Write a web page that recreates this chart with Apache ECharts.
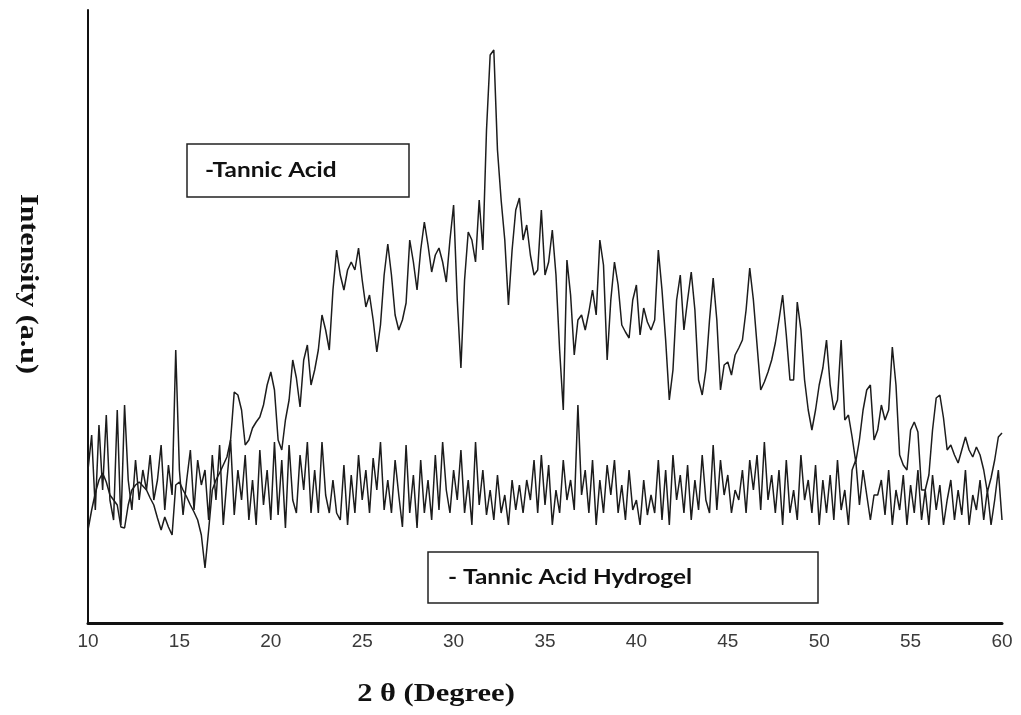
<!DOCTYPE html>
<html>
<head>
<meta charset="utf-8">
<script src="https://cdn.jsdelivr.net/npm/echarts@6/dist/echarts.min.js"></script>
<style>html,body{margin:0;padding:0;background:#fff;}#chart{width:1021px;height:715px;}</style>
</head>
<body>
<div id="chart"></div>
<script>
// 2θ sampling grid (degrees)
const startDeg = 10;
const stepDeg = 0.2;
const xTicks = [10, 15, 20, 25, 30, 35, 40, 45, 50, 55, 60];

// Tannic Acid intensity (a.u.)
const tannicAcid = [
 90,110,127,140,147,138,125,120,115,93,
 92,115,130,135,138,134,130,122,115,102,
 90,103,93,85,135,138,130,123,115,108,
 100,85,52,90,130,140,147,155,163,180,
 228,225,210,175,180,192,198,203,215,235,
 248,230,180,170,200,220,260,242,213,260,
 275,235,250,270,305,290,270,330,370,345,
 330,350,358,350,372,340,313,325,300,268,
 295,345,376,345,305,290,300,317,380,358,
 330,370,398,375,348,365,372,358,338,380,
 415,320,252,340,388,380,358,420,370,490,
 565,570,470,420,380,315,370,410,422,380,
 395,365,345,350,410,345,358,390,345,270,
 210,360,325,265,300,305,290,308,330,305,
 380,355,260,320,358,335,295,288,282,320,
 335,285,312,298,290,300,370,330,280,220,
 250,320,345,290,320,348,310,240,225,250,
 300,342,300,230,255,258,245,265,272,280,
 310,352,320,275,230,238,248,260,277,300,
 325,285,240,240,318,290,240,210,190,210,
 235,252,280,235,210,220,280,200,205,183,
 158,180,210,230,235,180,190,215,200,210,
 273,235,165,155,150,190,198,188,130,130,
 145,190,222,225,202,170,175,165,157,170,
 183,170,163,173,165,150,128,142,160,183,
 187
];

// Tannic Acid Hydrogel intensity (a.u.)
const hydrogel = [
 150,185,110,195,130,205,120,100,210,95,
 215,140,110,160,120,150,130,165,120,140,
 175,110,155,125,270,150,105,140,170,110,
 160,135,150,100,165,120,175,95,140,180,
 105,150,120,165,100,140,95,170,115,150,
 100,178,105,160,92,175,120,107,165,130,
 178,107,150,107,178,125,107,140,107,100,
 155,95,145,107,165,120,150,107,162,130,
 178,110,140,107,160,125,93,175,107,145,
 92,160,107,140,100,165,110,178,130,107,
 150,120,170,107,140,95,178,115,150,105,
 130,100,145,107,125,95,140,110,135,107,
 140,120,160,107,165,115,155,95,130,107,
 160,120,140,110,215,125,150,107,160,95,
 140,107,155,125,160,107,135,100,150,110,
 120,95,140,105,125,107,160,100,150,95,
 165,120,145,107,155,100,140,110,165,120,
 107,175,110,160,125,145,107,130,120,150,
 107,160,130,165,110,178,120,145,107,150,
 95,160,107,130,100,165,120,140,107,155,
 95,140,107,145,100,160,110,130,95,150,
 160,115,150,125,100,125,125,140,105,150,
 95,130,110,145,95,135,107,150,100,130,
 95,145,110,135,95,120,140,100,130,105,
 150,95,125,110,140,100,130,95,120,150,
 100
];

function toPairs(arr) {
  return arr.map((v, i) => [+(startDeg + i * stepDeg).toFixed(2), v]);
}

const chart = echarts.init(document.getElementById('chart'), null, {renderer: 'canvas'});
const lineStyle = {color: '#1c1c1c', width: 1.5};
const labelFont = 'bold 21px Lato, "Open Sans", sans-serif';
const titleFont = 'bold 25px "Liberation Serif", "DejaVu Serif", serif';
const option = {
  animation: false,
  backgroundColor: '#ffffff',
  grid: {left: 88, right: 19, top: 10, bottom: 92, containLabel: false},
  xAxis: {
    type: 'value', min: 10, max: 60, interval: 5,
    axisLine: {onZero: false, lineStyle: {color: '#111', width: 3}},
    axisTick: {show: false},
    splitLine: {show: false},
    axisLabel: {
      color: '#3a3a3a', fontSize: 19, fontFamily: 'Liberation Sans, Arial, sans-serif', margin: 9,
      formatter: v => xTicks.includes(v) ? String(v) : ''
    }
  },
  yAxis: {
    type: 'value', min: -3, max: 610,
    axisLine: {show: true, lineStyle: {color: '#111', width: 2}},
    axisTick: {show: false},
    axisLabel: {show: false},
    splitLine: {show: false}
  },
  series: [
    {name: 'Tannic Acid', type: 'line', data: toPairs(tannicAcid), showSymbol: false, lineStyle: lineStyle, z: 3},
    {name: 'Tannic Acid Hydrogel', type: 'line', data: toPairs(hydrogel), showSymbol: false, lineStyle: lineStyle, z: 2}
  ],
  graphic: [
    {type: 'rect', shape: {x: 187, y: 144, width: 222, height: 53}, style: {fill: '#fff', stroke: '#222', lineWidth: 1.5}, z: 10},
    {type: 'text', x: 205, y: 170, scaleX: 1.16, style: {text: '-Tannic Acid', font: labelFont, fill: '#111', textVerticalAlign: 'middle', verticalAlign: 'middle'}, z: 11},
    {type: 'rect', shape: {x: 428, y: 552, width: 390, height: 51}, style: {fill: '#fff', stroke: '#222', lineWidth: 1.5}, z: 10},
    {type: 'text', x: 448, y: 577, scaleX: 1.16, style: {text: '- Tannic Acid Hydrogel', font: labelFont, fill: '#111', textVerticalAlign: 'middle', verticalAlign: 'middle'}, z: 11},
    {type: 'text', x: 436, y: 695, scaleX: 1.22, style: {text: '2 θ (Degree)', font: titleFont, fill: '#111', align: 'center', verticalAlign: 'middle', textAlign: 'center', textVerticalAlign: 'middle'}, z: 11},
    {type: 'text', x: 27, y: 284, rotation: -Math.PI / 2, scaleX: 1.2, style: {text: 'Intensity (a.u)', font: titleFont, fill: '#111', align: 'center', verticalAlign: 'middle', textAlign: 'center', textVerticalAlign: 'middle'}, z: 11}
  ]
};
chart.setOption(option);
</script>
</body>
</html>
